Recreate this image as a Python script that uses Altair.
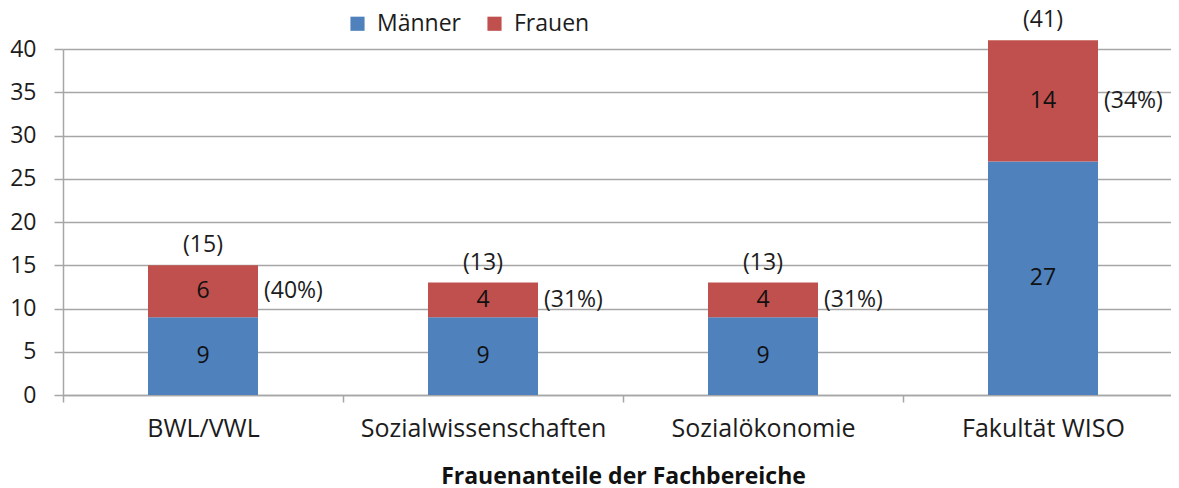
import altair as alt
import pandas as pd

categories = ["BWL/VWL", "Sozialwissenschaften", "Sozialökonomie", "Fakultät WISO"]
maenner = [9, 9, 9, 27]
frauen = [6, 4, 4, 14]
total_labels = ["(15)", "(13)", "(13)", "(41)"]
pct_labels = ["(40%)", "(31%)", "(31%)", "(34%)"]
series = ["Männer", "Frauen"]
colors = ["#4F81BD", "#C0504D"]
y_ticks = [0, 5, 10, 15, 20, 25, 30, 35, 40]

FONT = "Open Sans"
FS = 23
TXT = "#1c1c1c"
GRID = "#a6a6a6"

rows = []
for i, c in enumerate(categories):
    m, f = maenner[i], frauen[i]
    rows.append(dict(cat=c, series="Männer", ord=0, start=0, end=m, value=m, mid=m / 2))
    rows.append(dict(cat=c, series="Frauen", ord=1, start=m, end=m + f, value=f, mid=m + f / 2))
df = pd.DataFrame(rows)

tot = pd.DataFrame(dict(
    cat=categories,
    total=[m + f for m, f in zip(maenner, frauen)],
    lbl=total_labels,
    pct=pct_labels,
    fmid=[m + f / 2 for m, f in zip(maenner, frauen)],
))

x_enc = alt.X(
    "cat:N", sort=categories,
    scale=alt.Scale(paddingInner=0, paddingOuter=0),
    axis=alt.Axis(
        title="Frauenanteile der Fachbereiche", labelAngle=0, grid=False, labelLimit=0,
        ticks=True, tickBand="extent", tickSize=7, tickColor=GRID, tickWidth=1.5,
        domainColor=GRID, domainWidth=1.5,
        labelFont=FONT, labelFontSize=25, labelColor=TXT, labelPadding=14,
        titleFont=FONT, titleFontSize=23, titleFontWeight="bold", titleColor="#111111",
        titlePadding=24,
    ),
)

bars = alt.Chart(df).mark_bar(size=110).encode(
    x=x_enc,
    y=alt.Y(
        "start:Q", scale=alt.Scale(domain=[0, 40]),
        axis=alt.Axis(
            values=y_ticks, title=None, grid=True, gridColor=GRID, gridWidth=1.5,
            tickSize=9, tickColor=GRID, tickWidth=1.5,
            domainColor=GRID, domainWidth=1.5,
            labelFont=FONT, labelFontSize=FS, labelColor=TXT, labelPadding=18,
        ),
    ),
    y2="end:Q",
    color=alt.Color(
        "series:N", scale=alt.Scale(domain=series, range=colors),
        legend=alt.Legend(
            title=None, orient="none", legendX=283, legendY=-37, direction="horizontal",
            symbolType="square", symbolSize=200, symbolStrokeWidth=0,
            labelFont=FONT, labelFontSize=FS, labelColor=TXT, columnPadding=22,
            labelOffset=8,
        ),
    ),
    order=alt.Order("ord:Q"),
)

seg_text = alt.Chart(df).mark_text(font=FONT, fontSize=FS, color="#111111", baseline="middle").encode(
    x=alt.X("cat:N", sort=categories),
    y=alt.Y("mid:Q"),
    text=alt.Text("value:Q"),
)

tot_text = alt.Chart(tot).mark_text(font=FONT, fontSize=FS, color=TXT, baseline="middle", dy=-20).encode(
    x=alt.X("cat:N", sort=categories),
    y=alt.Y("total:Q"),
    text="lbl:N",
)

pct_text = alt.Chart(tot).mark_text(font=FONT, fontSize=FS, color=TXT, baseline="middle", align="left", dx=61).encode(
    x=alt.X("cat:N", sort=categories),
    y=alt.Y("fmid:Q"),
    text="pct:N",
)

chart = alt.layer(bars, seg_text, tot_text, pct_text).properties(
    width=1120, height=346,
    padding={"left": 55, "top": 41, "right": -12, "bottom": 96},
    autosize=alt.AutoSizeParams(type="none"),
).configure_view(stroke=None)

chart.save("out.html", embed_options={"renderer": "svg", "actions": False})
